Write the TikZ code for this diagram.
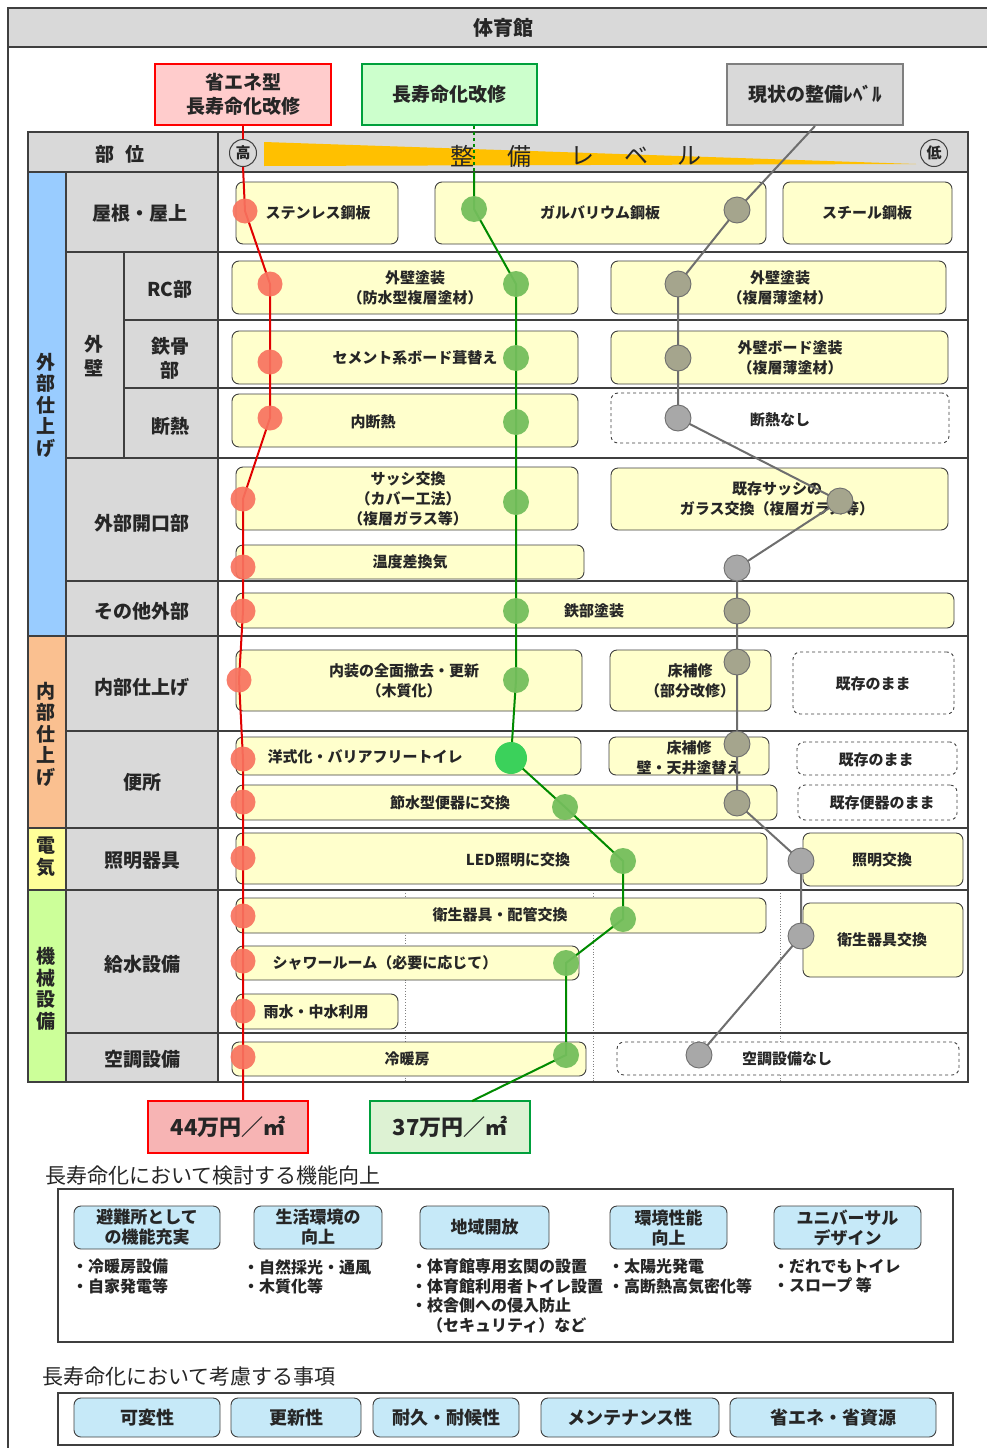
\documentclass[tikz,border=0pt]{standalone}
\usepackage{fontspec}
\setmainfont{Noto Sans CJK JP}
\definecolor{lineg}{HTML}{3F3F3F}
\definecolor{txtc}{HTML}{262626}
\definecolor{grayf}{HTML}{D9D9D9}
\definecolor{yelf}{HTML}{FFFFCC}
\definecolor{bluef}{HTML}{99CCFF}
\definecolor{orf}{HTML}{FAC090}
\definecolor{yef}{HTML}{FFFF99}
\definecolor{grf}{HTML}{CCFF99}
\definecolor{wedgec}{HTML}{FFC000}
\definecolor{redl}{HTML}{E00000}
\definecolor{greenl}{HTML}{008A00}
\definecolor{grayl}{HTML}{6E6E6E}
\definecolor{redd}{HTML}{F8735F}
\definecolor{greend}{HTML}{74BE5C}
\definecolor{brightg}{HTML}{3BD15B}
\definecolor{oliv}{HTML}{A5A58D}
\definecolor{silv}{HTML}{A8A8A8}
\definecolor{pinkf}{HTML}{FFCCCC}
\definecolor{mintf}{HTML}{CCFFCC}
\definecolor{costr}{HTML}{F7B4B4}
\definecolor{costg}{HTML}{DDF2D3}
\definecolor{cyanf}{HTML}{C6E9F8}
\definecolor{boxred}{HTML}{FF0000}
\definecolor{boxgreen}{HTML}{00A03C}
\definecolor{boxgray}{HTML}{7F7F7F}

\newcommand\BoxAt[9][ybox]{%
  \node[#1, minimum width={(#5)-(#3)}, minimum height={(#6)-(#4)}] (#2) at ({((#3)+(#5))/2},{((#4)+(#6))/2}) {};
  \node[txt] (#2t) at (#7,#8) {#9};}

\begin{document}
\begin{tikzpicture}[x=1pt,y=-1pt,
  ybox/.style={draw=lineg, fill=yelf, rounded corners=7pt, line width=0.9pt, inner sep=0pt},
  dbox/.style={draw=lineg, fill=white, dashed, rounded corners=7pt, line width=0.9pt, inner sep=0pt},
  txt/.style={font=\fontsize{15}{20}\selectfont\bfseries, align=center, inner sep=0pt, text=txtc},
  lbl/.style={font=\fontsize{19}{24}\selectfont\bfseries, align=center, inner sep=0pt, text=txtc},
  vlbl/.style={font=\fontsize{19}{21.5}\selectfont\bfseries, align=center, inner sep=0pt, text=txtc},
  tline/.style={draw=lineg, line width=1.3pt},
  rdot/.style={circle, fill=redd, fill opacity=0.92, minimum size=25pt, inner sep=0pt},
  gdot/.style={circle, fill=greend, fill opacity=0.95, minimum size=26pt, inner sep=0pt},
  odot/.style={circle, fill=oliv, draw=grayl, line width=0.9pt, minimum size=26pt, inner sep=0pt},
  sdot/.style={circle, fill=silv, draw=grayl, line width=0.9pt, minimum size=26pt, inner sep=0pt},
  redline/.style={draw=redl, line width=2pt},
  grnline/.style={draw=greenl, line width=2pt},
  gryline/.style={draw=grayl, line width=2pt},
  cbox/.style={draw=lineg, fill=cyanf, rounded corners=7pt, line width=0.9pt, inner sep=0pt, align=center, text=txtc},
  bul/.style={anchor=north west, align=left, inner sep=0pt, text=txtc, font=\fontsize{16}{19.4}\selectfont\bfseries}
]
\useasboundingbox (0,0) rectangle (987,1448);
\fill[white] (0,0) rectangle (987,1448);

% title bar and frame
\fill[grayf] (8,8) rectangle (990,47);
\draw[lineg, line width=1.5pt] (990,8) -- (8,8) -- (8,1452);
\draw[lineg, line width=1.5pt] (8,47) -- (990,47);
\node[font=\fontsize{20}{20}\selectfont\bfseries, text=txtc] (title) at (503,28) {体育館};

% top label boxes
\node[draw=boxred, fill=pinkf, line width=2pt, minimum width=176pt, minimum height=61pt, inner sep=0pt, align=center, text=txtc, font=\fontsize{19}{24}\selectfont\bfseries] (redbox) at (243,94.5) {省エネ型\\長寿命化改修};
\node[draw=boxgreen, fill=mintf, line width=2pt, minimum width=175pt, minimum height=61pt, inner sep=0pt, align=center, text=txtc, font=\fontsize{19}{24}\selectfont\bfseries] (greenbox) at (449.5,94.5) {長寿命化改修};
\node[draw=boxgray, fill=grayf, line width=2pt, minimum width=176pt, minimum height=61pt, inner sep=0pt, align=center, text=txtc, font=\fontsize{19}{24}\selectfont\bfseries] (graybox) at (815,94.5) {現状の整備ﾚﾍﾞﾙ};

% header row
\fill[grayf] (28,132) rectangle (968,172);
\fill[wedgec] (264,142) -- (916,164) -- (264,166) -- cycle;
\draw[tline] (28,132) rectangle (968,172);
\draw[tline] (218,132) -- (218,172);
\node[lbl] (bui) at (120,154) {部\hspace{0.6em}位};
\foreach \c/\x [count=\i] in {整/462, 備/519, レ/582, ベ/636, ル/689}
  \node[font=\fontsize{24}{24}\selectfont, text=txtc, inner sep=0pt] (lv\i) at (\x,156) {\c};
\node[circle, draw=lineg, line width=1pt, minimum size=27pt, inner sep=0pt, text=txtc, font=\fontsize{15}{15}\selectfont\bfseries] (hi) at (243,153) {高};
\node[circle, draw=lineg, line width=1pt, minimum size=27pt, inner sep=0pt, text=txtc, font=\fontsize{15}{15}\selectfont\bfseries] (lo) at (934,153) {低};

% table fills
\fill[grayf] (66,172) rectangle (218,1082);
\fill[bluef] (28,172) rectangle (66,636);
\fill[orf] (28,636) rectangle (66,828);
\fill[yef] (28,828) rectangle (66,890);
\fill[grf] (28,890) rectangle (66,1082);
\foreach \x in {405,593,780} \draw[gray, dotted, line width=0.8pt] (\x,890) -- (\x,1082);
% table lines
\draw[tline] (28,172) rectangle (968,1082);
\draw[tline] (66,172) -- (66,1082);
\draw[tline] (218,172) -- (218,1082);
\draw[tline] (124,252) -- (124,458);
\draw[tline] (66,252) -- (968,252);
\draw[tline] (124,320) -- (968,320);
\draw[tline] (124,388) -- (968,388);
\draw[tline] (66,458) -- (968,458);
\draw[tline] (66,581) -- (968,581);
\draw[tline] (28,636) -- (968,636);
\draw[tline] (66,731) -- (968,731);
\draw[tline] (28,828) -- (968,828);
\draw[tline] (28,890) -- (968,890);
\draw[tline] (66,1033) -- (968,1033);

% row labels
\node[lbl] (L1) at (140,213) {屋根・屋上};
\node[lbl] (Lw) at (94,356) {外\\壁};
\node[lbl] (L2) at (170,289) {RC部};
\node[lbl] (L3) at (170,358) {鉄骨\\部};
\node[lbl] (L4) at (170,426) {断熱};
\node[lbl] (L5) at (142,523) {外部開口部};
\node[lbl] (L6) at (142,611) {その他外部};
\node[lbl] (L7) at (142,687) {内部仕上げ};
\node[lbl] (L8) at (142,782) {便所};
\node[lbl] (L9) at (142,861) {照明器具};
\node[lbl] (L10) at (142,964) {給水設備};
\node[lbl] (L11) at (142,1059) {空調設備};
\node[vlbl] (C1) at (46,405) {外\\部\\仕\\上\\げ};
\node[vlbl] (C2) at (46,734) {内\\部\\仕\\上\\げ};
\node[vlbl] (C3) at (46,857) {電\\気};
\node[vlbl] (C4) at (46,989) {機\\械\\設\\備};

% option boxes
\BoxAt{b1}{236}{182}{398}{244}{318}{213}{ステンレス鋼板}
\BoxAt{b2}{435}{182}{766}{244}{600}{213}{ガルバリウム鋼板}
\BoxAt{b3}{783}{182}{952}{244}{867}{213}{スチール鋼板}
\BoxAt{b4}{232}{261}{578}{314}{415}{288}{外壁塗装\\（防水型複層塗材）}
\BoxAt{b5}{611}{261}{946}{314}{780}{288}{外壁塗装\\（複層薄塗材）}
\BoxAt{b6}{232}{331}{578}{384}{415}{358}{セメント系ボード葺替え}
\BoxAt{b7}{611}{331}{948}{384}{790}{358}{外壁ボード塗装\\（複層薄塗材）}
\BoxAt{b8}{232}{394}{578}{447}{373}{422}{内断熱}
\BoxAt[dbox]{b9}{611}{393}{949}{443}{780}{420}{断熱なし}
\BoxAt{b10}{236}{467}{578}{530}{408}{499}{サッシ交換\\（カバー工法）\\（複層ガラス等）}
\BoxAt{b11}{611}{468}{948}{530}{777}{499}{既存サッシの\\ガラス交換（複層ガラス等）}
\BoxAt{b12}{236}{545}{584}{579}{410}{562}{温度差換気}
\BoxAt{b13}{236}{593}{954}{628}{594}{611}{鉄部塗装}
\BoxAt{b14}{236}{650}{582}{711}{404}{681}{内装の全面撤去・更新\\（木質化）}
\BoxAt{b15}{610}{650}{771}{711}{690}{681}{床補修\\（部分改修）}
\BoxAt[dbox]{b16}{793}{652}{954}{714}{873}{684}{既存のまま}
\BoxAt{b17}{236}{737}{581}{775}{365}{757}{洋式化・バリアフリートイレ}
\BoxAt{b18}{609}{737}{769}{775}{689}{758}{床補修\\壁・天井塗替え}
\BoxAt[dbox]{b19}{797}{742}{957}{775}{876}{760}{既存のまま}
\BoxAt{b20}{236}{785}{777}{820}{450}{803}{節水型便器に交換}
\BoxAt[dbox]{b21}{798}{785}{957}{820}{882}{803}{既存便器のまま}
\BoxAt{b22}{236}{833}{767}{884}{518}{860}{LED照明に交換}
\BoxAt{b23}{803}{833}{963}{886}{882}{860}{照明交換}
\BoxAt{b24}{236}{898}{766}{933}{500}{915}{衛生器具・配管交換}
\BoxAt{b25}{803}{903}{963}{977}{882}{940}{衛生器具交換}
\BoxAt{b26}{236}{946}{579}{980}{385}{963}{シャワールーム（必要に応じて）}
\BoxAt{b27}{236}{994}{398}{1029}{316}{1012}{雨水・中水利用}
\BoxAt{b28}{232}{1042}{586}{1076}{407}{1059}{冷暖房}
\BoxAt[dbox]{b29}{617}{1042}{959}{1075}{787}{1059}{空調設備なし}

% cost boxes
\node[draw=boxred, fill=costr, line width=2pt, minimum width=160pt, minimum height=52pt, inner sep=0pt, text=txtc, font=\fontsize{22}{22}\selectfont\bfseries] (redcost) at (228,1127) {44万円／㎡};
\node[draw=boxgreen, fill=costg, line width=2pt, minimum width=160pt, minimum height=52pt, inner sep=0pt, text=txtc, font=\fontsize{22}{22}\selectfont\bfseries] (greencost) at (450,1127) {37万円／㎡};

% path points
\foreach \n/\x/\y in {r1/245/211, r2/270/284, r3/270/362, r4/270/418, r5/243/499, r6/243/567, r7/243/611, r8/239/680, r9/243/759, r10/243/802, r11/243/858, r12/243/916, r13/243/961, r14/243/1011, r15/243/1057,
  g1/474/209, g2/516/284, g3/516/358, g4/516/422, g5/516/502, g6/516/611, g7/516/680, g8/511/758, g9/565/807, g10/623/861, g11/623/919, g12/566/963, g13/566/1055,
  s1/737/210, s2/678/284, s3/678/358, s4/678/418, s5/840/501, s6/737/568, s7/737/611, s8/737/662, s9/737/744, s10/737/803, s11/801/861, s12/801/936, s13/699/1055}
  \coordinate (\n) at (\x,\y);
\coordinate (gh) at (474,172);
\coordinate (gend) at (472,1101);

% connectors
\draw[redline] (redbox.south) -- (hi.north);
\draw[redline] (hi.south) -- (r1) -- (r2) -- (r3) -- (r4) -- (r5) -- (r6) -- (r7) -- (r8) -- (r9) -- (r10) -- (r11) -- (r12) -- (r13) -- (r14) -- (r15) -- (r15 |- redcost.north);
\draw[grnline, dashed] (g1 |- greenbox.south) -- (gh);
\draw[grnline] (gh) -- (g1) -- (g2) -- (g3) -- (g4) -- (g5) -- (g6) -- (g7) -- (g8) -- (g9) -- (g10) -- (g11) -- (g12) -- (g13) -- (gend);
\draw[gryline] (graybox.south) -- (s1) -- (s2) -- (s3) -- (s4) -- (s5) -- (s6) -- (s7) -- (s8) -- (s9) -- (s10) -- (s11) -- (s12) -- (s13);

% dots
\foreach \n in {r1,r2,r3,r4,r5,r6,r7,r8,r9,r10,r11,r12,r13,r14,r15} \node[rdot] (D\n) at (\n) {};
\foreach \n in {g1,g2,g3,g4,g5,g6,g7,g9,g10,g11,g12,g13} \node[gdot] (D\n) at (\n) {};
\node[circle, fill=brightg, minimum size=32pt, inner sep=0pt] (Dg8) at (g8) {};
\foreach \n in {s1,s2,s3,s5,s7,s8,s9,s10} \node[odot] (D\n) at (\n) {};
\foreach \n in {s4,s6,s11,s12,s13} \node[sdot] (D\n) at (\n) {};

% bottom section 1
\node[anchor=west, inner sep=0pt, text=txtc, font=\fontsize{21}{21}\selectfont] (h1) at (45,1176) {長寿命化において検討する機能向上};
\draw[lineg, line width=1.2pt] (58,1189) rectangle (953,1342);
\node[cbox, minimum width=146pt, minimum height=43pt, font=\fontsize{17}{20}\selectfont\bfseries] (f1) at (147,1227.5) {避難所として\\の機能充実};
\node[cbox, minimum width=128pt, minimum height=43pt, font=\fontsize{17}{20}\selectfont\bfseries] (f2) at (318,1227.5) {生活環境の\\向上};
\node[cbox, minimum width=129pt, minimum height=43pt, font=\fontsize{17}{20}\selectfont\bfseries] (f3) at (484.5,1227.5) {地域開放};
\node[cbox, minimum width=117pt, minimum height=43pt, font=\fontsize{17}{20}\selectfont\bfseries] (f4) at (668.5,1227.5) {環境性能\\向上};
\node[cbox, minimum width=147pt, minimum height=43pt, font=\fontsize{17}{20}\selectfont\bfseries] (f5) at (847.5,1227.5) {ユニバーサル\\デザイン};
\node[bul] (n1) at (72,1259) {・冷暖房設備\\・自家発電等};
\node[bul] (n2) at (243,1259) {・自然採光・通風\\・木質化等};
\node[bul] (n3) at (411,1259) {・体育館専用玄関の設置\\・体育館利用者トイレ設置\\・校舎側への侵入防止\\\hspace{1em}（セキュリティ）など};
\node[bul] (n4) at (608,1259) {・太陽光発電\\・高断熱高気密化等};
\node[bul] (n5) at (773,1259) {・だれでもトイレ\\・スロープ 等};

% bottom section 2
\node[anchor=west, inner sep=0pt, text=txtc, font=\fontsize{21}{21}\selectfont] (h2) at (42,1377) {長寿命化において考慮する事項};
\draw[lineg, line width=1.2pt] (58,1393) rectangle (953,1445);
\node[cbox, minimum width=146pt, minimum height=39pt, font=\fontsize{18}{18}\selectfont\bfseries] (k1) at (147,1417.5) {可変性};
\node[cbox, minimum width=130pt, minimum height=39pt, font=\fontsize{18}{18}\selectfont\bfseries] (k2) at (296,1417.5) {更新性};
\node[cbox, minimum width=146pt, minimum height=39pt, font=\fontsize{18}{18}\selectfont\bfseries] (k3) at (446,1417.5) {耐久・耐候性};
\node[cbox, minimum width=178pt, minimum height=39pt, font=\fontsize{18}{18}\selectfont\bfseries] (k4) at (630,1417.5) {メンテナンス性};
\node[cbox, minimum width=206pt, minimum height=39pt, font=\fontsize{18}{18}\selectfont\bfseries] (k5) at (833,1417.5) {省エネ・省資源};
\end{tikzpicture}
\end{document}
